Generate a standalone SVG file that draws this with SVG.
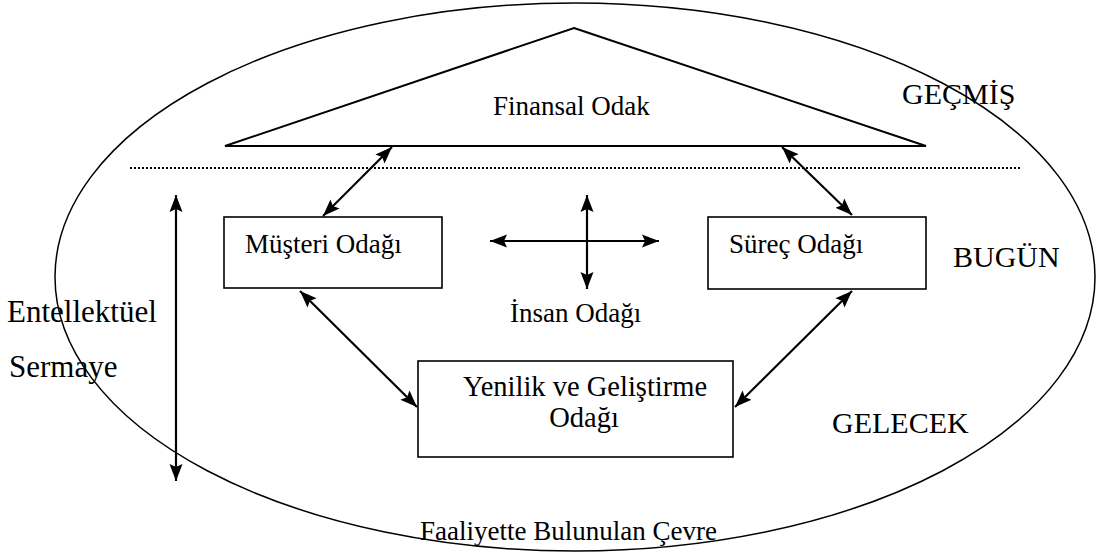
<svg xmlns="http://www.w3.org/2000/svg" width="1096" height="553" viewBox="0 0 1096 553">
<style>
.t{font-family:"Liberation Serif","Times New Roman",serif;fill:#000}
.b{font-size:27px}
.big{font-size:30px}
.box{fill:#fff;stroke:#000;stroke-width:1.6}
.ar{stroke:#000;stroke-width:2.2;fill:none;marker-start:url(#ah);marker-end:url(#ah)}
</style>
<defs>
<marker id="ah" markerUnits="userSpaceOnUse" markerWidth="18" markerHeight="14" refX="17" refY="7" orient="auto-start-reverse">
<path d="M0,0.5 L17,7 L0,13.5 L3,7 z" fill="#000"/>
</marker>
</defs>
<rect width="1096" height="553" fill="#fff"/>
<g id="environment">
<ellipse cx="575" cy="277" rx="520" ry="274" fill="none" stroke="#000" stroke-width="1.5"/>
<text class="t b" x="420" y="540">Faaliyette Bulunulan Çevre</text>
</g>
<g id="finansal">
<polygon points="574,28 926,146 225,146" fill="none" stroke="#000" stroke-width="2"/>
<text class="t b" x="493" y="115">Finansal Odak</text>
</g>
<g id="divider">
<line x1="130" y1="168" x2="1022" y2="168" stroke="#000" stroke-width="2" stroke-dasharray="2 2"/>
</g>
<g id="musteri">
<rect class="box" x="224" y="217" width="218" height="71"/>
<text class="t b" x="245" y="253">Müşteri Odağı</text>
</g>
<g id="surec">
<rect class="box" x="708" y="217" width="218" height="72"/>
<text class="t b" x="729" y="253">Süreç Odağı</text>
</g>
<g id="yenilik">
<rect class="box" x="418" y="361" width="315" height="96"/>
<text class="t" x="585" y="396" text-anchor="middle" style="font-size:28.5px">Yenilik ve Geliştirme</text>
<text class="t" x="584" y="427" text-anchor="middle" style="font-size:28.5px">Odağı</text>
</g>
<g id="insan">
<text class="t b" x="510" y="322">İnsan Odağı</text>
</g>
<g id="labels">
<text class="t big" x="902" y="104">GEÇMİŞ</text>
<text class="t big" x="953" y="267">BUGÜN</text>
<text class="t big" x="832" y="433">GELECEK</text>
<text class="t" x="7" y="322" style="font-size:31px">Entellektüel</text>
<text class="t" x="9" y="377" style="font-size:31px">Sermaye</text>
</g>
<g id="connectors">
<line class="ar" x1="392" y1="147" x2="323" y2="216"/>
<line class="ar" x1="782" y1="147" x2="852" y2="215"/>
<line class="ar" x1="300" y1="291" x2="417" y2="407"/>
<line class="ar" x1="852" y1="291" x2="735" y2="407"/>
<line class="ar" x1="490" y1="241" x2="659" y2="241"/>
<line class="ar" x1="587" y1="195" x2="587" y2="289"/>
<line class="ar" x1="176" y1="195" x2="176" y2="481"/>
</g>
</svg>
